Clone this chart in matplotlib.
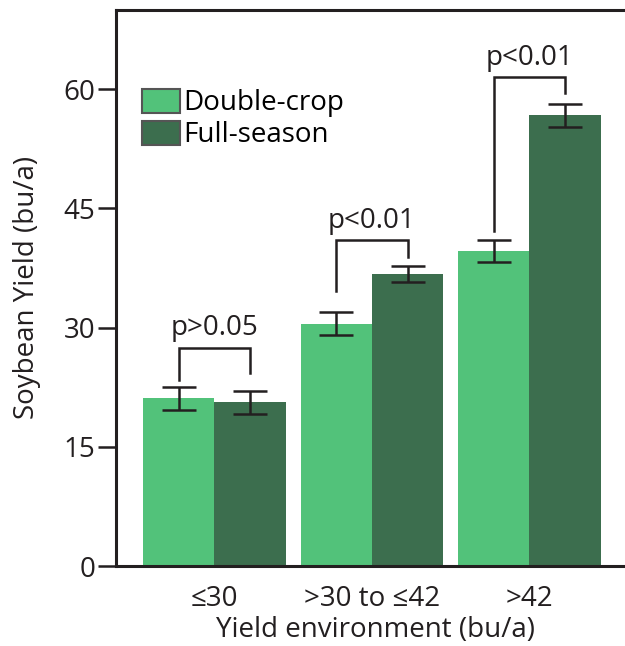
import numpy as np
import matplotlib
matplotlib.use("Agg")
import matplotlib.pyplot as plt
from matplotlib.patches import Patch

plt.rcParams['font.family'] = ['Open Sans', 'DejaVu Sans']

# Data
categories = ['≤30', '>30 to ≤42', '>42']
double_crop = [21.1, 30.5, 39.6]
full_season = [20.6, 36.8, 56.7]
double_err = [1.45, 1.45, 1.4]
full_err = [1.45, 1.0, 1.4]
p_labels = ['p>0.05', 'p<0.01', 'p<0.01']
# bracket top and leg ends (left, right) in data units
bracket_top = [27.5, 41.0, 61.5]
bracket_left_end = [23.4, 34.6, 42.2]
bracket_right_end = [24.3, 38.9, 59.5]

light = '#52C27A'
dark = '#3C6E4E'
ink = '#231F20'
fs = 20

fig = plt.figure(figsize=(6.25, 6.46), dpi=100)
ax = fig.add_axes([0.1856, 0.1238, 0.83, 0.861])

x = np.arange(len(categories))
w = 0.452

ax.bar(x - w / 2, double_crop, w, color=light, edgecolor='none')
ax.bar(x + w / 2, full_season, w, color=dark, edgecolor='none')
ax.errorbar(x - w / 2, double_crop, yerr=double_err, fmt='none', ecolor=ink,
            elinewidth=1.8, capsize=12, capthick=1.8)
ax.errorbar(x + w / 2, full_season, yerr=full_err, fmt='none', ecolor=ink,
            elinewidth=1.8, capsize=12, capthick=1.8)

# significance brackets
for i in range(len(categories)):
    xl = x[i] - w / 2
    xr = x[i] + w / 2
    ax.plot([xl, xl, xr, xr],
            [bracket_left_end[i], bracket_top[i], bracket_top[i], bracket_right_end[i]],
            color=ink, lw=1.8, solid_joinstyle='miter')
    ax.text(x[i], bracket_top[i] + 1.6, p_labels[i], ha='center', va='baseline',
            fontsize=fs, color=ink)

ax.set_xlim(-0.624, 2.668)
ax.set_ylim(0, 70)
ax.set_yticks([0, 15, 30, 45, 60])
ax.set_xticks(x)
ax.set_xticklabels(categories)
ax.tick_params(axis='x', length=0, pad=14, labelsize=fs, colors=ink)
ax.tick_params(axis='y', length=13, width=1.8, labelsize=fs, colors=ink, pad=2)
for s in ['left', 'bottom', 'top']:
    ax.spines[s].set_linewidth(2.2)
    ax.spines[s].set_color(ink)
ax.spines['right'].set_visible(False)

ax.set_ylabel('Soybean Yield (bu/a)', fontsize=fs, color=ink, labelpad=16)
ax.set_xlabel('Yield environment (bu/a)', fontsize=fs, color=ink, labelpad=2)

handles = [Patch(facecolor=light, edgecolor='#555555', linewidth=1.5),
           Patch(facecolor=dark, edgecolor='#555555', linewidth=1.5)]
ax.legend(handles, ['Double-crop', 'Full-season'], loc='upper left',
          bbox_to_anchor=(0.05, 0.858), frameon=False, fontsize=fs,
          handlelength=1.37, handleheight=0.95, handletextpad=0.1,
          labelspacing=0.12, borderaxespad=0, borderpad=0)

fig.savefig('out.png', dpi=100)
